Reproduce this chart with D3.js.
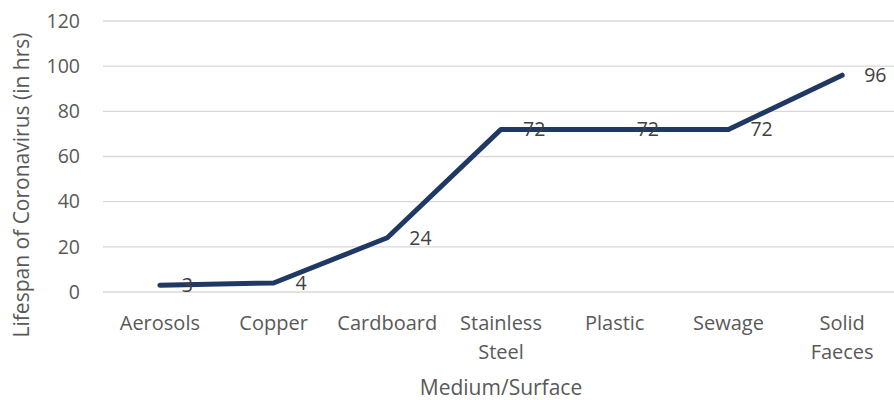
<!DOCTYPE html>
<html>
<head>
<meta charset="utf-8">
<script src="https://cdn.jsdelivr.net/npm/d3@7"></script>
<style>
  body { margin: 0; background: #fff; }
  text { font-family: "Open Sans", Lato, sans-serif; }
</style>
</head>
<body>
<div id="chart"></div>
<script>
// data
const categories = ["Aerosols", "Copper", "Cardboard", "Stainless Steel", "Plastic", "Sewage", "Solid Faeces"];
const lifespanHrs = [3, 4, 24, 72, 72, 72, 96];
const yTicks = [0, 20, 40, 60, 80, 100, 120];

const W = 894, H = 400;
const m = {t: 21, r: -5, b: 108, l: 103};

const svg = d3.select("#chart").append("svg")
  .attr("width", W).attr("height", H);

const x = d3.scalePoint().domain(categories)
  .range([m.l, W - m.r]).padding(0.5);
const y = d3.scaleLinear().domain([0, 120]).range([H - m.b, m.t]);

// gridlines
svg.append("g").selectAll("line").data(yTicks).enter().append("line")
  .attr("x1", m.l).attr("x2", W - m.r)
  .attr("y1", d => y(d)).attr("y2", d => y(d))
  .attr("stroke", "#d9d9d9").attr("stroke-width", 1.3);

// y tick labels
svg.append("g").selectAll("text").data(yTicks).enter().append("text")
  .attr("x", 80).attr("y", d => y(d)).attr("dy", "0.35em")
  .attr("text-anchor", "end").attr("font-size", 19.5).attr("fill", "#595959")
  .text(d => d);

// x tick labels (wrapped like the original)
const xl = svg.append("g").selectAll("text").data(categories).enter().append("text")
  .attr("x", d => x(d)).attr("y", 330)
  .attr("text-anchor", "middle").attr("font-size", 20).attr("fill", "#595959");
xl.each(function(d) {
  const words = d.split(" ");
  const t = d3.select(this);
  words.forEach((w, i) => {
    t.append("tspan").attr("x", x(d)).attr("dy", i === 0 ? 0 : 29).text(w);
  });
});

// axis titles
svg.append("text")
  .attr("transform", "translate(29," + 185 + ") rotate(-90)")
  .attr("text-anchor", "middle").attr("font-size", 21).attr("fill", "#595959")
  .text("Lifespan of Coronavirus (in hrs)");
svg.append("text")
  .attr("x", 501).attr("y", 395)
  .attr("text-anchor", "middle").attr("font-size", 21).attr("fill", "#595959")
  .text("Medium/Surface");

// the line
const line = d3.line()
  .x((d, i) => x(categories[i]))
  .y(d => y(d));
svg.append("path").datum(lifespanHrs)
  .attr("d", line)
  .attr("fill", "none").attr("stroke", "#203864")
  .attr("stroke-width", 5).attr("stroke-linejoin", "round").attr("stroke-linecap", "round");

// data labels, right of each point
svg.append("g").selectAll("text").data(lifespanHrs).enter().append("text")
  .attr("x", (d, i) => x(categories[i]) + 22)
  .attr("y", d => y(d)).attr("dy", "0.35em")
  .attr("font-size", 19.5).attr("fill", "#404040")
  .text(d => d);
</script>
</body>
</html>
